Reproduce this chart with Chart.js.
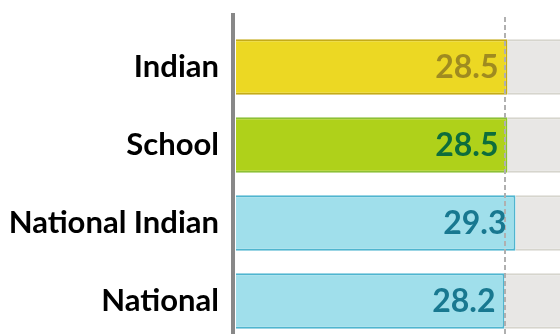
<!DOCTYPE html>
<html>
<head>
<meta charset="utf-8">
<script src="https://cdn.jsdelivr.net/npm/chart.js@4/dist/chart.umd.min.js"></script>
<style>
  html, body { margin: 0; padding: 0; background: #ffffff; overflow: hidden; }
  #wrap { width: 560px; height: 340px; }
</style>
</head>
<body>
<div id="wrap"><canvas id="c" width="560" height="340"></canvas></div>
<script>
// Average scores by group
const categories = ['Indian', 'School', 'National Indian', 'National'];
const scores = [28.5, 28.5, 29.3, 28.2];
const benchmark = 28.2;          // dashed reference line (national)
const AXIS_MIN = 1.35;
const AXIS_MAX = 33.75;

const fillColors   = ['#ecd823', '#afd11a', '#a0dfeb', '#a0dfeb'];
const borderColors = ['#c5ab17', '#8cc035', '#4fb5cf', '#4fb5cf'];
const valueColors  = ['#9f8b20', '#0d6d3c', '#187890', '#187890'];

const FONT = 'Lato, "Open Sans", sans-serif';

// axis spine, dashed benchmark and value labels
const overlay = {
  id: 'overlay',
  afterDatasetsDraw(chart) {
    const ctx = chart.ctx;
    const area = chart.chartArea;
    const xs = chart.scales.x;
    ctx.save();
    // left spine
    ctx.fillStyle = '#888888';
    ctx.fillRect(area.left - 5, 13, 4, chart.height - 13);
    // dashed benchmark line
    const bx = Math.round(xs.getPixelForValue(benchmark));
    ctx.strokeStyle = '#b0b0b0';
    ctx.lineWidth = 2;
    ctx.setLineDash([5, 3]);
    ctx.beginPath();
    ctx.moveTo(bx, 17);
    ctx.lineTo(bx, chart.height);
    ctx.stroke();
    ctx.setLineDash([]);
    // values inside the bar ends
    const meta = chart.getDatasetMeta(1);
    ctx.font = 'bold 32px ' + FONT;
    ctx.textAlign = 'right';
    ctx.textBaseline = 'middle';
    meta.data.forEach((bar, i) => {
      ctx.fillStyle = valueColors[i];
      ctx.fillText(scores[i].toFixed(1), bar.x - 9, bar.y + 1);
    });
    ctx.restore();
  }
};

new Chart(document.getElementById('c'), {
  type: 'bar',
  data: {
    labels: categories,
    datasets: [
      {
        // remaining track to the end of the scale
        data: scores.map(v => [v, AXIS_MAX]),
        backgroundColor: '#e8e7e5',
        borderColor: '#d6d5cd',
        borderWidth: { top: 2, bottom: 2, left: 0, right: 0 },
        borderSkipped: false,
        categoryPercentage: 1,
        barPercentage: 0.714,
        order: 2
      },
      {
        data: scores,
        backgroundColor: fillColors,
        borderColor: borderColors,
        borderWidth: 2,
        borderSkipped: 'start',
        categoryPercentage: 1,
        barPercentage: 0.714,
        order: 1
      }
    ]
  },
  options: {
    indexAxis: 'y',
    responsive: false,
    animation: false,
    grouped: false,
    layout: { padding: { top: 28, right: 0, bottom: 0, left: 0 } },
    plugins: { legend: { display: false }, tooltip: { enabled: false } },
    scales: {
      x: {
        display: false,
        min: AXIS_MIN,
        max: AXIS_MAX
      },
      y: {
        afterFit(scale) {
          scale.width = 236;
          scale.paddingTop = 0;
          scale.paddingBottom = 0;
        },
        border: { display: false },
        grid: { display: false, drawTicks: false },
        ticks: {
          padding: 17,
          color: '#000000',
          font: { family: FONT, size: 31, weight: 'bold' }
        }
      }
    }
  },
  plugins: [overlay]
});
</script>
</body>
</html>
